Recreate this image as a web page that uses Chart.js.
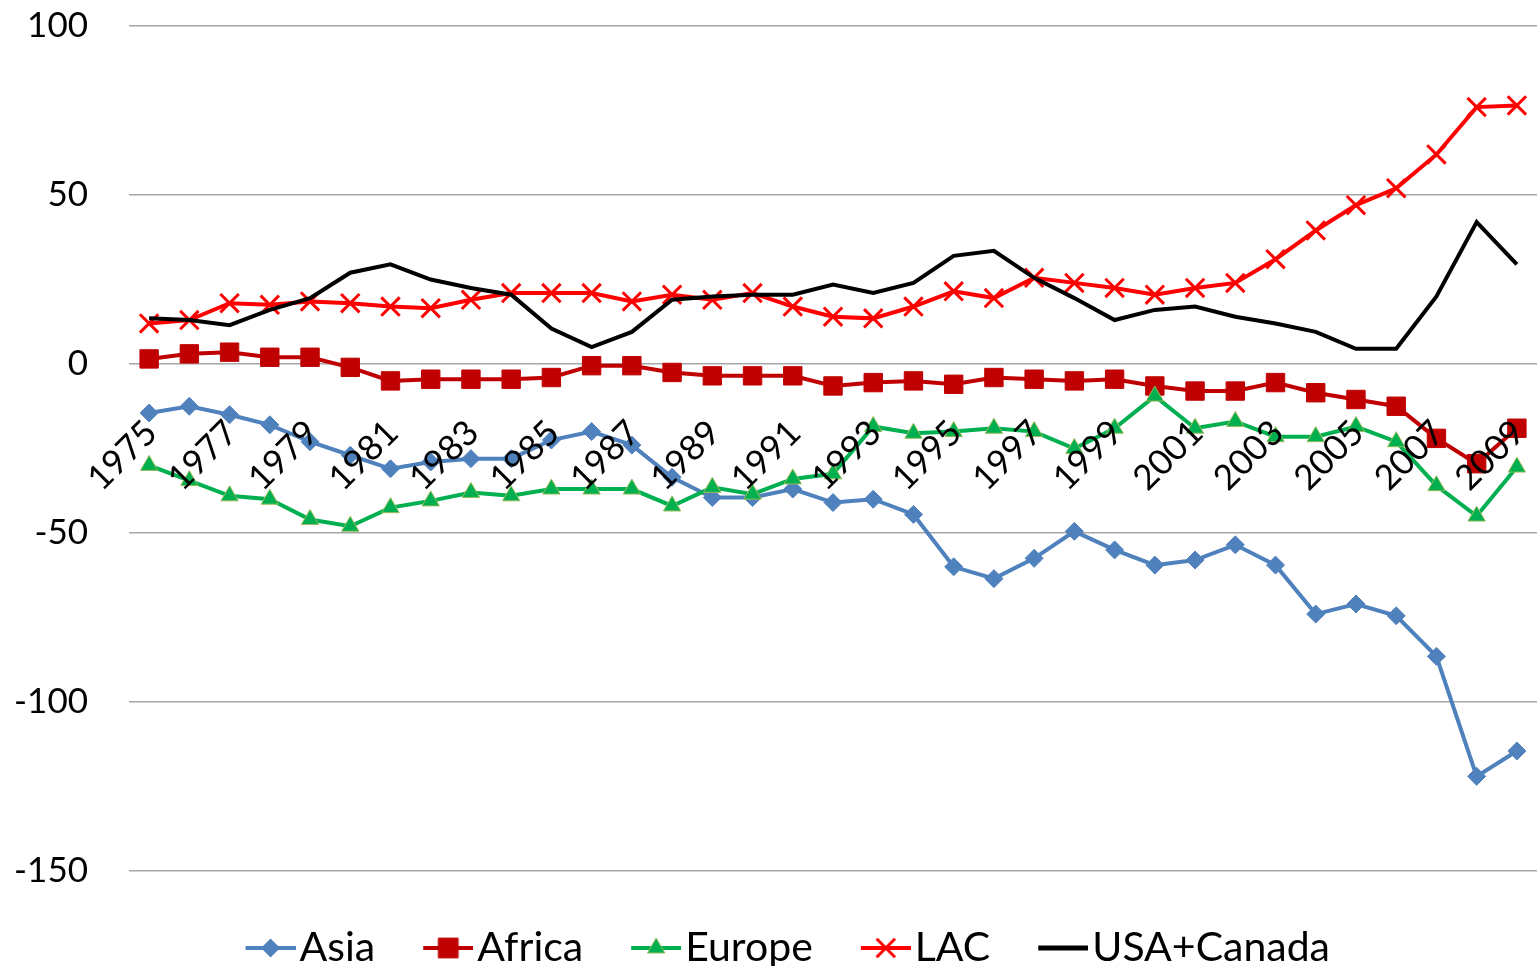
<!DOCTYPE html>
<html>
<head>
<meta charset="utf-8">
<title>Regional balance 1975-2009</title>
<script src="https://cdn.jsdelivr.net/npm/chart.js@4.4.1/dist/chart.umd.min.js"></script>
<style>
	html, body { margin: 0; padding: 0; background: #fff; }
	#wrap { position: relative; width: 1537px; height: 966px; }
</style>
</head>
<body>
<div id="wrap"><canvas id="chart"></canvas></div>
<script>
'use strict';

var years = [];
for (var yr = 1975; yr <= 2009; yr++) { years.push(String(yr)); }

var yTicks = [100, 50, 0, -50, -100, -150];

var asia = [-14.5, -12.5, -15, -18, -23, -27, -31, -29, -28, -28,
	-22.5, -20, -24, -33.5, -39.5, -39.5, -37, -41, -40, -44.5,
	-60, -63.5, -57.5, -49.5, -55, -59.5, -58, -53.5, -59.5, -74,
	-71, -74.5, -86.5, -122, -114.5];

var africa = [1.5, 3, 3.5, 2, 2, -1, -5, -4.5, -4.5, -4.5,
	-4, -0.5, -0.5, -2.5, -3.5, -3.5, -3.5, -6.5, -5.5, -5,
	-6, -4, -4.5, -5, -4.5, -6.5, -8, -8, -5.5, -8.5,
	-10.5, -12.5, -22, -29.5, -19];

var europe = [-30, -34.5, -39, -40, -46, -48, -42.5, -40.5, -38, -39,
	-37, -37, -37, -42, -36.5, -38.5, -34, -32.5, -18.5, -20.5,
	-20, -19, -20, -25, -19, -9.5, -19, -17, -21.5, -21.5,
	-18.5, -23, -36, -45, -30.5];

var lac = [12, 13, 18, 17.5, 18.5, 18, 17, 16.5, 19, 21,
	21, 21, 18.5, 20.5, 19, 21, 17, 14, 13.5, 17,
	21.5, 19.5, 25.5, 24, 22.5, 20.5, 22.5, 24, 31, 39.5,
	47, 52, 62, 76, 76.5];

var usaCanada = [13.5, 13, 11.5, 16, 19.5, 27, 29.5, 25, 22.5, 20.5,
	10.5, 5, 9.5, 19, 20, 20.5, 20.5, 23.5, 21, 24,
	32, 33.5, 25.5, 19.5, 13, 16, 17, 14, 12, 9.5,
	4.5, 4.5, 20, 42, 29.5];

var FONT = 'Lato, "Open Sans", "DejaVu Sans", sans-serif';

// legend icon: a short line with the marker on it (like Excel)
function makeIcon(color, style, radius, border, borderWidth, lineWidth) {
	var c = document.createElement('canvas'),
		ctx = c.getContext('2d');
	c.width = 58;
	c.height = 30;
	ctx.strokeStyle = color;
	ctx.lineWidth = lineWidth;
	ctx.beginPath();
	ctx.moveTo(8, 15);
	ctx.lineTo(58, 15);
	ctx.stroke();
	if (style) {
		ctx.fillStyle = color;
		ctx.strokeStyle = border;
		ctx.lineWidth = borderWidth;
		Chart.helpers.drawPoint(ctx, {pointStyle: style, radius: radius, borderWidth: borderWidth, rotation: 0}, 33, 15);
	}
	return c;
}

// y labels hang out left of the (narrow) y box; don't let the scale clip them
var unclipY = {
	id: 'unclipY',
	beforeDraw: function (chart) {
		chart.scales.y.left = 0;
	}
};

function build() {
	var icons = [
		makeIcon('#4f81bd', 'rectRot', 9, '#4f81bd', 1, 4),
		makeIcon('#c00000', 'rect', 14, '#c00000', 1, 4),
		makeIcon('#00b050', 'triangle', 10, '#9bbb59', 1, 4),
		makeIcon('#ff0000', 'crossRot', 13, '#ff0000', 3, 4),
		makeIcon('#000000', null, 0, '#000', 0, 5)
	];

	var series = function (label, data, color, style, radius, border, order) {
		return {
			label: label,
			data: data,
			borderColor: color,
			backgroundColor: color,
			borderWidth: 4,
			tension: 0,
			pointStyle: style || false,
			pointRadius: style ? radius : 0,
			pointBackgroundColor: color,
			pointBorderColor: border || color,
			pointBorderWidth: style === 'crossRot' ? 3 : 1,
			order: order
		};
	};

	new Chart(document.getElementById('chart'), {
		type: 'line',
		data: {
			labels: years,
			datasets: [
				series('Asia', asia, '#4f81bd', 'rectRot', 9, '#4f81bd', 5),
				series('Africa', africa, '#c00000', 'rect', 13, '#c00000', 4),
				series('Europe', europe, '#00b050', 'triangle', 10, '#9bbb59', 3),
				series('LAC', lac, '#ff0000', 'crossRot', 13, '#ff0000', 2),
				series('USA+Canada', usaCanada, '#000000', null, 0, null, 1)
			]
		},
		plugins: [unclipY],
		options: {
			responsive: true,
			maintainAspectRatio: false,
			animation: false,
			events: [],
			layout: {
				autoPadding: false,
				padding: {left: 47, right: 0, top: 26, bottom: -12.5}
			},
			scales: {
				x: {
					position: {y: 0},
					offset: true,
					grid: {display: false, drawTicks: false},
					border: {display: false},
					afterFit: function (scale) {
						scale.paddingLeft = 0;
						scale.paddingRight = 0;
					},
					ticks: {
						z: 1,
						autoSkip: false,
						minRotation: 45,
						maxRotation: 45,
						padding: 48,
						labelOffset: 2,
						color: '#000',
						font: {family: FONT, size: 35},
						callback: function (value, index) {
							return index % 2 === 0 ? years[index] : null;
						}
					}
				},
				y: {
					min: -150,
					max: 100,
					afterBuildTicks: function (scale) {
						scale.ticks = yTicks.slice().reverse().map(function (v) { return {value: v}; });
					},
					// keep the plot edges where Excel had them
					afterFit: function (scale) {
						scale.width = 82;
						scale.paddingTop = 0;
						scale.paddingBottom = 0;
					},
					grid: {color: '#a6a6a6', lineWidth: 1.5, drawTicks: false},
					border: {display: false},
					ticks: {
						padding: 41,
						color: '#000',
						font: {family: FONT, size: 35}
					}
				}
			},
			plugins: {
				tooltip: {enabled: false},
				legend: {
					position: 'bottom',
					labels: {
						usePointStyle: true,
						pointStyleWidth: 25,
						padding: 56.5,
						color: '#000',
						font: {family: FONT, size: 41},
						generateLabels: function (chart) {
							return chart.data.datasets.map(function (ds, i) {
								return {
									text: ds.label,
									pointStyle: icons[i],
									fillStyle: 'transparent',
									strokeStyle: 'transparent',
									lineWidth: 0,
									fontColor: '#000',
									hidden: !chart.isDatasetVisible(i),
									datasetIndex: i
								};
							});
						}
					}
				}
			}
		}
	});
}

if (document.fonts && document.fonts.load) {
	Promise.all([document.fonts.load('35px Lato'), document.fonts.load('41px Lato')]).then(build, build);
} else {
	build();
}
</script>
</body>
</html>
